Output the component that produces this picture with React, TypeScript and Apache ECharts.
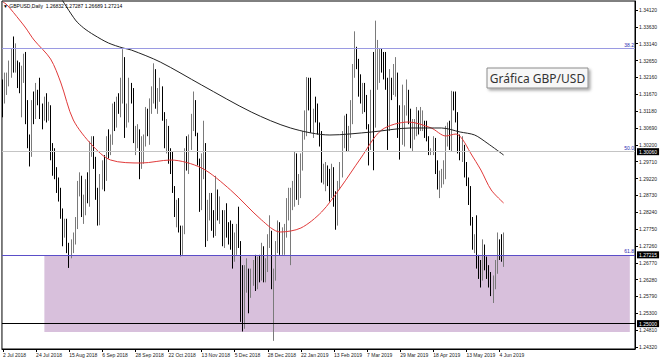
import React, { useEffect, useRef } from "react";
import * as echarts from "echarts";

const headerText = "▼ GBPUSD,Daily  1.26832 1.27287 1.26689 1.27214";
const boxLabel = "Gráfica GBP/USD";

const tickLabels = [
  "2 Jul 2018", "24 Jul 2018", "15 Aug 2018", "6 Sep 2018", "28 Sep 2018", "22 Oct 2018",
  "13 Nov 2018", "5 Dec 2018", "28 Dec 2018", "22 Jan 2019", "13 Feb 2019", "7 Mar 2019",
  "29 Mar 2019", "18 Apr 2019", "13 May 2019", "4 Jun 2019",
];

const priceTicks = [
  1.2432, 1.2481, 1.253, 1.2579, 1.2628, 1.2677, 1.2726, 1.2775, 1.2824, 1.2873, 1.2922,
  1.2971, 1.302, 1.3069, 1.3118, 1.3167, 1.3216, 1.3265, 1.3314, 1.3363, 1.3412,
];

// [open, close, low, high]
const ohlc: number[][] = [
  [1.3200, 1.3150, 1.3100, 1.3210], [1.3150, 1.3185, 1.3140, 1.3230], [1.3185, 1.3215, 1.3165, 1.3230],
  [1.3215, 1.3225, 1.3190, 1.3265], [1.3225, 1.3280, 1.3215, 1.3300], [1.3280, 1.3250, 1.3230, 1.3335],
  [1.3250, 1.3250, 1.3230, 1.3315], [1.3250, 1.3210, 1.3185, 1.3265], [1.3210, 1.3195, 1.3170, 1.3260],
  [1.3195, 1.3235, 1.3100, 1.3250], [1.3235, 1.3255, 1.3200, 1.3285], [1.3255, 1.3090, 1.3080, 1.3290],
  [1.3090, 1.3030, 1.3010, 1.3150], [1.3030, 1.2990, 1.2957, 1.3050], [1.2990, 1.3130, 1.2985, 1.3150],
  [1.3130, 1.3110, 1.3080, 1.3175], [1.3110, 1.3160, 1.3095, 1.3200], [1.3160, 1.3150, 1.3135, 1.3180],
  [1.3150, 1.3110, 1.3095, 1.3215], [1.3110, 1.3105, 1.3065, 1.3140], [1.3105, 1.3125, 1.3090, 1.3160],
  [1.3125, 1.3120, 1.3085, 1.3170], [1.3120, 1.3125, 1.3090, 1.3145], [1.3125, 1.3000, 1.2975, 1.3135],
  [1.3000, 1.2995, 1.2930, 1.3025], [1.2995, 1.2935, 1.2920, 1.3010], [1.2935, 1.2905, 1.2880, 1.2955],
  [1.2905, 1.2880, 1.2855, 1.2925], [1.2880, 1.2820, 1.2805, 1.2895], [1.2820, 1.2765, 1.2725, 1.2835],
  [1.2765, 1.2780, 1.2750, 1.2805], [1.2780, 1.2720, 1.2705, 1.2805], [1.2720, 1.2705, 1.2662, 1.2735],
  [1.2705, 1.2715, 1.2690, 1.2745], [1.2715, 1.2740, 1.2705, 1.2765], [1.2740, 1.2790, 1.2730, 1.2810],
  [1.2790, 1.2890, 1.2775, 1.2915], [1.2890, 1.2915, 1.2870, 1.2940], [1.2915, 1.2830, 1.2810, 1.2930],
  [1.2830, 1.2830, 1.2790, 1.2875], [1.2830, 1.2895, 1.2815, 1.2920], [1.2895, 1.2875, 1.2850, 1.2940],
  [1.2875, 1.3000, 1.2840, 1.3030], [1.3000, 1.3030, 1.2985, 1.3045], [1.3030, 1.2970, 1.2950, 1.3045],
  [1.2970, 1.2870, 1.2860, 1.2985], [1.2870, 1.2855, 1.2785, 1.2895], [1.2855, 1.2920, 1.2786, 1.2935],
  [1.2920, 1.2950, 1.2890, 1.2975], [1.2950, 1.2920, 1.2885, 1.2990], [1.2920, 1.3035, 1.2915, 1.3045],
  [1.3035, 1.3030, 1.2980, 1.3065], [1.3030, 1.3045, 1.2990, 1.3050], [1.3045, 1.3115, 1.3020, 1.3140],
  [1.3115, 1.3070, 1.3060, 1.3145], [1.3070, 1.3150, 1.3070, 1.3160], [1.3150, 1.3130, 1.3110, 1.3170],
  [1.3130, 1.3145, 1.3100, 1.3215], [1.3145, 1.3270, 1.3140, 1.3298], [1.3270, 1.3070, 1.3040, 1.3275],
  [1.3070, 1.3110, 1.3070, 1.3140], [1.3110, 1.3170, 1.3085, 1.3215], [1.3170, 1.3165, 1.3140, 1.3200],
  [1.3165, 1.3030, 1.3025, 1.3185], [1.3030, 1.3030, 1.2990, 1.3075], [1.3030, 1.3060, 1.3010, 1.3080],
  [1.3060, 1.2970, 1.2920, 1.3065], [1.2970, 1.2995, 1.2950, 1.3045], [1.2995, 1.3030, 1.2965, 1.3050],
  [1.3030, 1.3120, 1.3015, 1.3130], [1.3120, 1.3080, 1.3045, 1.3125], [1.3080, 1.3140, 1.3020, 1.3155],
  [1.3140, 1.3160, 1.3110, 1.3190], [1.3160, 1.3225, 1.3140, 1.3257], [1.3225, 1.3150, 1.3125, 1.3240],
  [1.3150, 1.3155, 1.3110, 1.3185], [1.3155, 1.3170, 1.3145, 1.3215], [1.3170, 1.3110, 1.3090, 1.3190],
  [1.3110, 1.3030, 1.3010, 1.3115], [1.3030, 1.3060, 1.2995, 1.3095], [1.3060, 1.2975, 1.2965, 1.3075],
  [1.2975, 1.2970, 1.2935, 1.3010], [1.2970, 1.2890, 1.2880, 1.3000], [1.2890, 1.2820, 1.2810, 1.2900],
  [1.2820, 1.2830, 1.2780, 1.2860], [1.2830, 1.2770, 1.2765, 1.2865], [1.2770, 1.2715, 1.2696, 1.2785],
  [1.2715, 1.2770, 1.2700, 1.2785], [1.2770, 1.3000, 1.2760, 1.3010], [1.3000, 1.2970, 1.2945, 1.3045],
  [1.2970, 1.3040, 1.2935, 1.3050], [1.3040, 1.3070, 1.3005, 1.3110], [1.3070, 1.3140, 1.3060, 1.3175],
  [1.3140, 1.3050, 1.3045, 1.3150], [1.3050, 1.2970, 1.2960, 1.3055], [1.2970, 1.2835, 1.2825, 1.2980],
  [1.2835, 1.2980, 1.2830, 1.2995], [1.2980, 1.3020, 1.2920, 1.3090], [1.3020, 1.2770, 1.2723, 1.3025],
  [1.2770, 1.2830, 1.2740, 1.2860], [1.2830, 1.2850, 1.2800, 1.2880], [1.2850, 1.2790, 1.2770, 1.2880],
  [1.2790, 1.2770, 1.2750, 1.2830], [1.2770, 1.2880, 1.2755, 1.2930], [1.2880, 1.2810, 1.2800, 1.2890],
  [1.2810, 1.2815, 1.2790, 1.2870], [1.2815, 1.2735, 1.2725, 1.2830], [1.2735, 1.2815, 1.2720, 1.2830],
  [1.2815, 1.2765, 1.2750, 1.2850], [1.2765, 1.2750, 1.2730, 1.2795], [1.2750, 1.2725, 1.2715, 1.2800],
  [1.2725, 1.2715, 1.2660, 1.2790], [1.2715, 1.2735, 1.2680, 1.2765], [1.2735, 1.2760, 1.2700, 1.2790],
  [1.2760, 1.2730, 1.2720, 1.2840], [1.2730, 1.2560, 1.2505, 1.2740], [1.2560, 1.2495, 1.2477, 1.2670],
  [1.2495, 1.2640, 1.2485, 1.2670], [1.2640, 1.2650, 1.2590, 1.2690], [1.2650, 1.2585, 1.2530, 1.2660],
  [1.2585, 1.2630, 1.2575, 1.2660], [1.2630, 1.2650, 1.2610, 1.2685], [1.2650, 1.2605, 1.2595, 1.2700],
  [1.2605, 1.2665, 1.2600, 1.2695], [1.2665, 1.2645, 1.2620, 1.2700], [1.2645, 1.2720, 1.2625, 1.2735],
  [1.2720, 1.2635, 1.2620, 1.2725], [1.2635, 1.2660, 1.2620, 1.2690], [1.2660, 1.2745, 1.2650, 1.2760],
  [1.2745, 1.2760, 1.2720, 1.2815], [1.2760, 1.2610, 1.2600, 1.2770], [1.2610, 1.2630, 1.2450, 1.2660],
  [1.2630, 1.2725, 1.2625, 1.2740], [1.2725, 1.2785, 1.2705, 1.2800], [1.2785, 1.2725, 1.2700, 1.2795],
  [1.2725, 1.2750, 1.2700, 1.2780], [1.2750, 1.2760, 1.2700, 1.2790], [1.2760, 1.2850, 1.2750, 1.2865],
  [1.2850, 1.2865, 1.2800, 1.2895], [1.2865, 1.2870, 1.2670, 1.2895], [1.2870, 1.2870, 1.2830, 1.2915],
  [1.2870, 1.2990, 1.2840, 1.3000], [1.2990, 1.2875, 1.2860, 1.2995], [1.2875, 1.2895, 1.2845, 1.2935],
  [1.2895, 1.2950, 1.2865, 1.2995], [1.2950, 1.3050, 1.2945, 1.3060], [1.3050, 1.3080, 1.3035, 1.3120],
  [1.3080, 1.3200, 1.3045, 1.3217], [1.3200, 1.3185, 1.3120, 1.3215], [1.3185, 1.3080, 1.3055, 1.3215],
  [1.3080, 1.3120, 1.3040, 1.3125], [1.3120, 1.3115, 1.3085, 1.3160], [1.3115, 1.3075, 1.3050, 1.3140],
  [1.3075, 1.3040, 1.3015, 1.3085], [1.3040, 1.2935, 1.2910, 1.3060], [1.2935, 1.2940, 1.2905, 1.2965],
  [1.2940, 1.2945, 1.2885, 1.2970], [1.2945, 1.2940, 1.2900, 1.2960], [1.2940, 1.2870, 1.2855, 1.2950],
  [1.2870, 1.2945, 1.2865, 1.2965], [1.2945, 1.2860, 1.2840, 1.2955], [1.2860, 1.2790, 1.2773, 1.2885],
  [1.2790, 1.2900, 1.2785, 1.2915], [1.2900, 1.2935, 1.2890, 1.2970], [1.2935, 1.3045, 1.2925, 1.3060],
  [1.3045, 1.3050, 1.3010, 1.3105], [1.3050, 1.3045, 1.3000, 1.3110], [1.3045, 1.3060, 1.3000, 1.3075],
  [1.3060, 1.3090, 1.3040, 1.3150], [1.3090, 1.3250, 1.3080, 1.3255], [1.3250, 1.3290, 1.3215, 1.3350],
  [1.3290, 1.3260, 1.3240, 1.3305], [1.3260, 1.3190, 1.3160, 1.3270], [1.3190, 1.3160, 1.3140, 1.3225],
  [1.3160, 1.3165, 1.3110, 1.3200], [1.3165, 1.3145, 1.3115, 1.3200], [1.3145, 1.3070, 1.3065, 1.3165],
  [1.3070, 1.3010, 1.2960, 1.3080], [1.3010, 1.3150, 1.3005, 1.3180], [1.3150, 1.3080, 1.2946, 1.3290],
  [1.3080, 1.3245, 1.3070, 1.3381], [1.3245, 1.3255, 1.3180, 1.3325], [1.3255, 1.3265, 1.3200, 1.3300],
  [1.3265, 1.3260, 1.3230, 1.3300], [1.3260, 1.3250, 1.3210, 1.3290], [1.3250, 1.3205, 1.3180, 1.3290],
  [1.3205, 1.3110, 1.3005, 1.3215], [1.3110, 1.3200, 1.3060, 1.3240], [1.3200, 1.3195, 1.3150, 1.3215],
  [1.3195, 1.3210, 1.3165, 1.3255], [1.3210, 1.3210, 1.3160, 1.3275], [1.3210, 1.3050, 1.3040, 1.3230],
  [1.3050, 1.3030, 1.2977, 1.3135], [1.3030, 1.3115, 1.3020, 1.3195], [1.3115, 1.3125, 1.3015, 1.3135],
  [1.3125, 1.3175, 1.3105, 1.3210], [1.3175, 1.3105, 1.3080, 1.3180], [1.3105, 1.3035, 1.3010, 1.3125],
  [1.3035, 1.3045, 1.3000, 1.3095], [1.3045, 1.3065, 1.3035, 1.3095], [1.3065, 1.3110, 1.3045, 1.3130],
  [1.3110, 1.3065, 1.3050, 1.3120], [1.3065, 1.3085, 1.3060, 1.3130], [1.3085, 1.3085, 1.3060, 1.3120],
  [1.3085, 1.3070, 1.3040, 1.3090], [1.3070, 1.3040, 1.3030, 1.3090], [1.3040, 1.3000, 1.2990, 1.3045],
  [1.3000, 1.3000, 1.2990, 1.3010], [1.3000, 1.3030, 1.2990, 1.3045], [1.3030, 1.2945, 1.2935, 1.3040],
  [1.2945, 1.2910, 1.2890, 1.2975], [1.2910, 1.2915, 1.2865, 1.2945], [1.2915, 1.2920, 1.2895, 1.2950],
  [1.2920, 1.2935, 1.2905, 1.2975], [1.2935, 1.3040, 1.2920, 1.3075], [1.3040, 1.3055, 1.3015, 1.3085],
  [1.3055, 1.3040, 1.3005, 1.3090], [1.3040, 1.3175, 1.3000, 1.3177], [1.3175, 1.3150, 1.3120, 1.3175],
  [1.3150, 1.3095, 1.3085, 1.3175], [1.3095, 1.3010, 1.2995, 1.3115], [1.3010, 1.3000, 1.2975, 1.3050],
  [1.3000, 1.3005, 1.2970, 1.3045], [1.3005, 1.2945, 1.2925, 1.3020], [1.2945, 1.2915, 1.2900, 1.2970],
  [1.2915, 1.2885, 1.2845, 1.2925], [1.2885, 1.2795, 1.2785, 1.2900], [1.2795, 1.2720, 1.2715, 1.2810],
  [1.2720, 1.2725, 1.2705, 1.2760], [1.2725, 1.2665, 1.2660, 1.2815], [1.2665, 1.2650, 1.2630, 1.2700],
  [1.2650, 1.2640, 1.2605, 1.2685], [1.2640, 1.2715, 1.2625, 1.2745], [1.2715, 1.2665, 1.2655, 1.2730],
  [1.2665, 1.2650, 1.2630, 1.2695], [1.2650, 1.2625, 1.2605, 1.2670], [1.2625, 1.2620, 1.2580, 1.2650],
  [1.2620, 1.2625, 1.2560, 1.2640], [1.2625, 1.2660, 1.2600, 1.2685], [1.2660, 1.2735, 1.2645, 1.2765],
  [1.2735, 1.2710, 1.2685, 1.2745], [1.2710, 1.2690, 1.2680, 1.2760], [1.2690, 1.2720, 1.2665, 1.2765],
];

// moving averages: [bar index, price]
const redMA: number[][] = [
  [0, 1.34353], [2, 1.34265], [8, 1.33829], [11, 1.33597], [15, 1.33248], [23, 1.32695],
  [28, 1.31997], [34, 1.30921], [43, 1.30194], [52, 1.29758], [67, 1.29671], [81, 1.29758],
  [96, 1.29525], [110, 1.28886], [125, 1.28013], [134, 1.27664], [144, 1.27781], [154, 1.28246],
  [163, 1.28944], [173, 1.29816], [183, 1.3063], [196, 1.30863], [207, 1.30689], [214, 1.30456],
  [219, 1.30514], [222, 1.30369], [226, 1.29962], [231, 1.29467], [236, 1.28886], [242, 1.28508],
];
const blackMA: number[][] = [
  [28, 1.34469], [35, 1.33829], [39, 1.33597], [44, 1.33393], [51, 1.3316], [58, 1.33015],
  [62, 1.32957], [76, 1.32608], [96, 1.31939], [120, 1.31154], [139, 1.30689], [158, 1.30485],
  [178, 1.30572], [197, 1.30689], [212, 1.30689], [221, 1.30572], [228, 1.30485], [234, 1.30252],
  [242, 1.29903],
];

const fibNames = ["38.2", "50.0", "61.8"];
const fibPrices = [1.33451, 1.30194, 1.26908];
const fibColors = ["#9a9ae2", "#b9b9ea", "#5a4ec8"];

const levelPrices = [1.3006, 1.25];
const levelLabels = ["1.30060", "1.25000"];
const levelColors = ["#c4c4c4", "#000000"];
const bidPrice = 1.27215;
const bidLabel = "1.27215";

const zoneFrom = 20;
const zoneTo = 303;
const zoneTop = 1.26995;
const zoneBottom = 1.24756;

const slotCount = 306;
const yMin = 1.24262;
const yMax = 1.34382;

const App: React.FC = () => {
  const ref = useRef<HTMLDivElement>(null);

  useEffect(() => {
    if (!ref.current) return;
    const chart = echarts.init(ref.current, undefined, { renderer: "svg" });
    const cats = Array.from({ length: slotCount }, (_, i) => String(i));
    const showTick = (i: number) => i % 16 === 0 && i / 16 < tickLabels.length;
    const font = "Liberation Sans";

    const boxLabelStyle = {
      show: true,
      position: "end",
      backgroundColor: "#000",
      color: "#fff",
      fontSize: 5,
      fontFamily: font,
      padding: [1, 2, 1, 2],
      distance: 2,
    };

    const markLineData: any[] = [];
    fibPrices.forEach((p, i) => {
      markLineData.push({
        yAxis: p,
        lineStyle: { color: fibColors[i], width: 1, type: "solid" },
        label: {
          show: true,
          position: "insideEndTop",
          formatter: fibNames[i],
          color: "#2a2ab0",
          fontSize: 5,
          fontFamily: font,
          distance: 1,
        },
      });
    });
    levelPrices.forEach((p, i) => {
      markLineData.push({
        yAxis: p,
        lineStyle: { color: levelColors[i], width: 1, type: "solid" },
        label: { ...boxLabelStyle, formatter: levelLabels[i] },
      });
    });
    markLineData.push({
      yAxis: bidPrice,
      lineStyle: { color: "rgba(0,0,0,0)", width: 1 },
      label: { ...boxLabelStyle, formatter: bidLabel },
    });

    chart.setOption({
      animation: false,
      backgroundColor: "#ffffff",
      grid: {
        left: 1,
        right: 28,
        top: 1,
        bottom: 13,
        show: true,
        borderColor: "#000",
        borderWidth: 1,
        backgroundColor: "#fff",
      },
      xAxis: {
        type: "category",
        data: cats,
        boundaryGap: true,
        axisLine: { show: true, lineStyle: { color: "#000", width: 1 } },
        axisTick: {
          show: true,
          alignWithLabel: true,
          interval: (i: number) => showTick(i),
          length: 3,
          lineStyle: { color: "#000" },
        },
        axisLabel: {
          interval: (i: number) => showTick(i),
          formatter: (v: string) => {
            const i = Number(v);
            return i % 16 === 0 ? tickLabels[i / 16] ?? "" : "";
          },
          align: "left",
          fontSize: 5,
          fontFamily: font,
          color: "#222",
          margin: 3,
        },
        splitLine: { show: false },
      },
      yAxis: {
        type: "value",
        position: "right",
        min: yMin,
        max: yMax,
        axisLine: { show: true, lineStyle: { color: "#000", width: 1 } },
        axisTick: {
          show: true,
          length: 3,
          lineStyle: { color: "#000" },
          customValues: priceTicks,
        },
        axisLabel: {
          customValues: priceTicks,
          formatter: (v: number) => v.toFixed(5),
          fontSize: 5,
          fontFamily: font,
          color: "#222",
          margin: 4,
        },
        splitLine: { show: false },
      },
      series: [
        {
          name: "zones",
          type: "line",
          data: [],
          z: 1,
          silent: true,
          markArea: {
            silent: true,
            itemStyle: { color: "#d8c0dc", opacity: 1 },
            data: [[{ xAxis: zoneFrom, yAxis: zoneTop }, { xAxis: zoneTo, yAxis: zoneBottom }]],
          },
        },
        {
          name: "lines",
          type: "line",
          data: [],
          z: 2,
          silent: true,
          markLine: {
            silent: true,
            symbol: ["none", "none"],
            animation: false,
            data: markLineData,
          },
        },
        {
          name: "GBPUSD",
          type: "candlestick",
          data: ohlc,
          z: 3,
          barWidth: 1.3,
          silent: true,
          itemStyle: {
            color: "#dcdcdc",
            color0: "#000000",
            borderColor: "#7a7a7a",
            borderColor0: "#000000",
            borderWidth: 1,
          },
        },
        {
          name: "MA red",
          type: "line",
          data: redMA,
          z: 4,
          smooth: 0.3,
          showSymbol: false,
          silent: true,
          lineStyle: { color: "#e03a3a", width: 1 },
        },
        {
          name: "MA black",
          type: "line",
          data: blackMA,
          z: 4,
          smooth: 0.3,
          showSymbol: false,
          silent: true,
          lineStyle: { color: "#222", width: 1 },
        },
      ],
      graphic: [
        {
          type: "text",
          x: 3,
          y: 3,
          style: { text: headerText, fontSize: 5, fontFamily: font, fill: "#000" },
          z: 10,
        },
        {
          type: "rect",
          shape: { x: 487, y: 68, width: 101, height: 20 },
          style: {
            fill: "#f7f7f7",
            stroke: "#8c8c8c",
            lineWidth: 1,
            shadowBlur: 3,
            shadowOffsetX: 2,
            shadowOffsetY: 2,
            shadowColor: "rgba(0,0,0,0.35)",
          },
          z: 10,
        },
        {
          type: "text",
          x: 537.5,
          y: 78,
          style: {
            text: boxLabel,
            fontSize: 12,
            fontFamily: "Noto Sans",
            fill: "#333",
            align: "center",
            verticalAlign: "middle",
          },
          z: 11,
        },
      ],
    });

    return () => chart.dispose();
  }, []);

  return (
    <div
      ref={ref}
      style={{ position: "absolute", left: 0, top: 0, width: 663, height: 362 }}
    />
  );
};

export default App;
